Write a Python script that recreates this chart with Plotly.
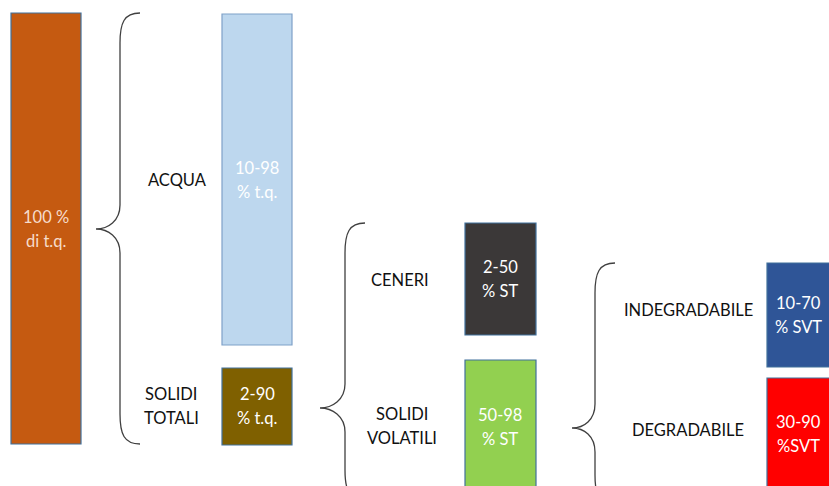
import plotly.graph_objects as go

# ---- content ----
box_texts = ["100 %<br>di t.q.", "10-98<br>% t.q.", "2-90<br>% t.q.",
             "2-50<br>% ST", "50-98<br>% ST", "10-70<br>% SVT", "30-90<br>%SVT"]
box_fill = ["#C55A11", "#BDD7EE", "#7F6000", "#3B3838", "#92D050", "#2F5597", "#FF0000"]
box_text_color = ["#F6DCCB", "#FFFFFF", "#FFFFFF", "#FFFFFF", "#FFFFFF", "#FFFFFF", "#FFFFFF"]
label_texts = ["ACQUA", "SOLIDI<br>TOTALI", "CENERI", "SOLIDI<br>VOLATILI",
               "INDEGRADABILE", "DEGRADABILE"]

# ---- layout geometry (pixel space of the diagram) ----
box_x0 = [11, 222, 222, 465, 465, 767, 767]
box_x1 = [81, 292, 292, 536, 536, 845, 845]
box_y0 = [13, 14, 368, 223, 360, 263, 378]
box_y1 = [444, 345, 445, 335, 500, 367, 500]
box_text_cx = [46, 257, 257, 500, 500, 798, 798]
box_text_y = [229, 180, 406, 279, 427, 315, 434]

label_x = [177, 171, 400, 402, 688, 688]
label_y = [180, 406, 280, 426, 310, 430]
line_gap = 23.5

# braces: (x_top_end, x_vertical, x_tip, y_top, y_tip, y_bottom)
braces = [(140, 120, 96, 13, 229, 444),
          (365, 345, 320, 223, 408, 500),
          (615, 595, 572, 263, 428, 505)]

W, H = 829, 486
fig = go.Figure()
shapes = []
for i in range(len(box_texts)):
    shapes.append(dict(type="rect", xref="x", yref="y",
                       x0=box_x0[i], x1=box_x1[i], y0=box_y0[i], y1=box_y1[i],
                       fillcolor=box_fill[i],
                       line=dict(color="#41719C" if i != 1 else "#7FA1C8", width=1.2),
                       layer="below"))

for (xe, xv, xt, yt, ym, yb) in braces:
    r = 20
    p = (f"M {xe},{yt} C {xv+4},{yt} {xv},{yt+10} {xv},{yt+r+10} "
         f"L {xv},{ym-24} C {xv},{ym-8} {xt+12},{ym} {xt},{ym} "
         f"C {xt+12},{ym} {xv},{ym+8} {xv},{ym+24} "
         f"L {xv},{yb-r-10} C {xv},{yb-10} {xv+4},{yb} {xe},{yb}")
    shapes.append(dict(type="path", xref="x", yref="y", path=p,
                       line=dict(color="#404040", width=1.3)))

annotations = []


def add_text(x, y, text, color):
    lines = text.split("<br>")
    n = len(lines)
    for k, ln in enumerate(lines):
        yy = y + (k - (n - 1) / 2) * line_gap
        annotations.append(dict(x=x, y=yy, xref="x", yref="y", text=ln,
                                showarrow=False, align="center",
                                font=dict(family="Lato", size=16.5, color=color)))


for i, t in enumerate(box_texts):
    add_text(box_text_cx[i], box_text_y[i], t, box_text_color[i])
for i, t in enumerate(label_texts):
    add_text(label_x[i], label_y[i], t, "#111111")

fig.update_layout(
    width=W, height=H, margin=dict(l=0, r=0, t=0, b=0),
    paper_bgcolor="white", plot_bgcolor="white",
    xaxis=dict(range=[0, W], visible=False, fixedrange=True),
    yaxis=dict(range=[H, 0], visible=False, fixedrange=True),
    shapes=shapes, annotations=annotations, showlegend=False,
)
fig.write_html("out.html")
